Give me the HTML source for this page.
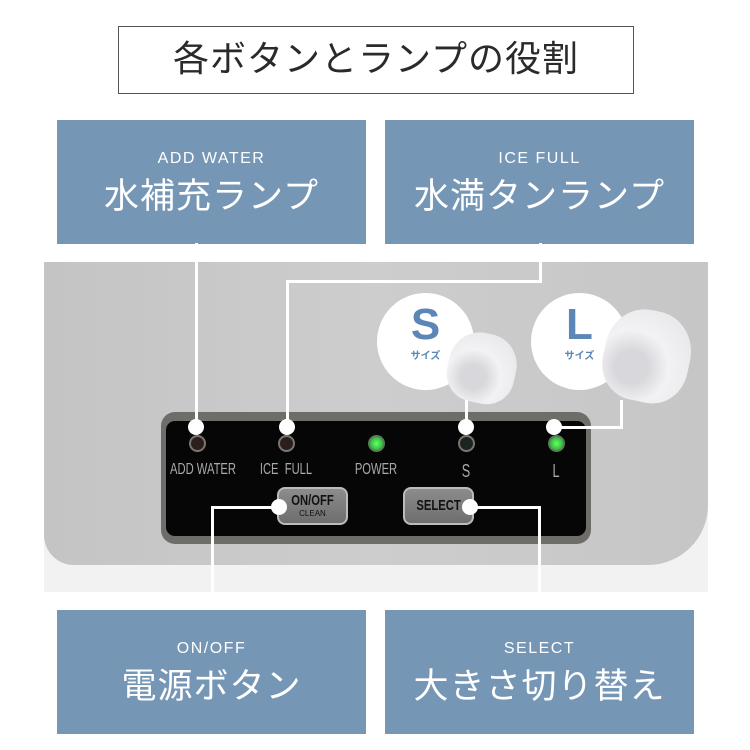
<!DOCTYPE html>
<html><head><meta charset="utf-8"><style>
*{margin:0;padding:0;box-sizing:border-box}
body{width:750px;height:750px;background:#fff;position:relative;overflow:hidden;font-family:"Liberation Sans","Noto Sans CJK JP",sans-serif}
.a{position:absolute}
.title{left:118px;top:26px;width:516px;height:68px;border:1.5px solid #555;text-align:center;line-height:64px;font-size:36px;color:#2a2a2a;letter-spacing:1px}
.box{background:#7596b5;color:#fff;text-align:center;width:309px;height:124px}
.box .s{font-size:16px;margin-top:30px;letter-spacing:1.5px}
.box .b{font-size:35px;line-height:40px;margin-top:9px;letter-spacing:1px}
.ln{background:#fff;position:absolute}
.dot{position:absolute;width:16px;height:16px;border-radius:50%;background:#fff;margin:-8px 0 0 -8px}
.led{position:absolute;width:17px;height:17px;border-radius:50%;margin:-8.5px 0 0 -8.5px;border:2px solid #7a756f}
.lab{position:absolute;color:#aaa;font-size:16px;transform:scaleX(.7);transform-origin:center;width:120px;margin-left:-60px;text-align:center;top:461px}
.btn{position:absolute;border:2px solid #bbb;border-radius:8px;background:linear-gradient(#8c8c8c,#6e6e6e);color:#111;text-align:center;font-weight:bold}
</style></head><body>
<div class="a title">各ボタンとランプの役割</div>
<div class="a box" style="left:57px;top:120px"><div class="s">ADD WATER</div><div class="b">水補充ランプ</div></div>
<div class="a box" style="left:385px;top:120px"><div class="s">ICE FULL</div><div class="b">水満タンランプ</div></div>
<div class="a box" style="left:57px;top:610px"><div class="s">ON/OFF</div><div class="b">電源ボタン</div></div>
<div class="a box" style="left:385px;top:610px"><div class="s">SELECT</div><div class="b">大きさ切り替え</div></div>

<!-- photo -->
<div class="a" style="left:44px;top:262px;width:664px;height:330px;background:#f2f2f2;overflow:hidden">
 <div class="a" style="left:0;top:0;width:664px;height:303px;background:linear-gradient(90deg,#c4c4c4,#cdcdcd 50%,#c6c6c6);border-bottom-right-radius:60px;border-bottom-left-radius:30px"></div>
</div>
<!-- panel -->
<div class="a" style="left:161px;top:412px;width:430px;height:132px;border-radius:14px;background:#6f6d6a"></div>
<div class="a" style="left:166px;top:421px;width:420px;height:115px;border-radius:9px;background:#060606"></div>
<div class="led" style="left:197px;top:443px;background:#2a1f1d"></div>
<div class="led" style="left:286px;top:443px;background:#2a1f1d"></div>
<div class="led" style="left:376px;top:443px;background:radial-gradient(#6f6,#1a9a2a);border-color:#5a7a5a"></div>
<div class="led" style="left:466px;top:443px;background:#1c2420"></div>
<div class="led" style="left:556px;top:443px;background:radial-gradient(#6f6,#1a9a2a);border-color:#5a7a5a"></div>
<div class="lab" style="left:203px">ADD WATER</div>
<div class="lab" style="left:286px">ICE&nbsp; FULL</div>
<div class="lab" style="left:376px">POWER</div>
<div class="lab" style="left:466px;font-size:18px">S</div>
<div class="lab" style="left:556px;font-size:18px">L</div>
<div class="btn" style="left:277px;top:487px;width:71px;height:38px"><div style="font-size:15px;line-height:16px;margin-top:4px;transform:scaleX(.75)">ON/OFF</div><div style="font-size:8px;font-weight:normal">CLEAN</div></div>
<div class="btn" style="left:403px;top:487px;width:71px;height:38px;line-height:34px;font-size:15px"><span style="display:inline-block;transform:scaleX(.75)">SELECT</span></div>

<!-- circles -->
<div class="a" style="left:377px;top:293px;width:97px;height:97px;border-radius:50%;background:#fff;text-align:center;color:#5b86b5">
 <div style="font-size:44px;font-weight:bold;line-height:44px;margin-top:10px">S</div><div style="font-size:10px;font-weight:bold">サイズ</div></div>
<div class="a" style="left:531px;top:293px;width:97px;height:97px;border-radius:50%;background:#fff;text-align:center;color:#5b86b5">
 <div style="font-size:44px;font-weight:bold;line-height:44px;margin-top:10px">L</div><div style="font-size:10px;font-weight:bold">サイズ</div></div>
<div class="a" style="left:448px;top:333px;width:68px;height:70px;border-radius:45% 45% 40% 40%;background:radial-gradient(circle at 40% 65%,#d8d8dc 20%,#f2f2f4 45%,#e4e4e8);transform:rotate(12deg)"></div>
<div class="a" style="left:604px;top:310px;width:86px;height:92px;border-radius:45% 45% 40% 40%;background:radial-gradient(circle at 35% 65%,#d8d8dc 20%,#f2f2f4 45%,#e4e4e8);transform:rotate(12deg)"></div>

<!-- connectors -->
<div class="ln" style="left:195px;top:243px;width:3px;height:185px"></div>
<div class="dot" style="left:196px;top:427px"></div>
<div class="ln" style="left:539px;top:243px;width:3px;height:40px"></div>
<div class="ln" style="left:286px;top:280px;width:256px;height:3px"></div>
<div class="ln" style="left:286px;top:280px;width:3px;height:148px"></div>
<div class="dot" style="left:287px;top:427px"></div>
<div class="ln" style="left:465px;top:400px;width:3px;height:28px"></div>
<div class="dot" style="left:466px;top:427px"></div>
<div class="ln" style="left:554px;top:426px;width:69px;height:3px"></div>
<div class="ln" style="left:620px;top:400px;width:3px;height:29px"></div>
<div class="dot" style="left:554px;top:427px"></div>
<div class="ln" style="left:211px;top:506px;width:68px;height:3px"></div>
<div class="ln" style="left:211px;top:506px;width:3px;height:104px"></div>
<div class="dot" style="left:279px;top:507px"></div>
<div class="ln" style="left:470px;top:506px;width:71px;height:3px"></div>
<div class="ln" style="left:538px;top:506px;width:3px;height:104px"></div>
<div class="dot" style="left:470px;top:507px"></div>
</body></html>
